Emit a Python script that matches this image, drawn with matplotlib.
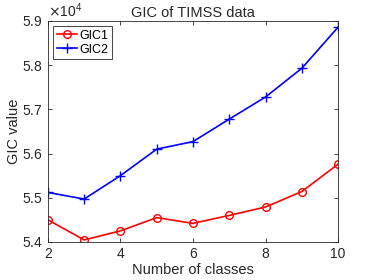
import matplotlib.pyplot as plt
import numpy as np

plt.rcParams.update({
    'font.family': ['Liberation Sans', 'DejaVu Sans'],
    'font.size': 10,
    'axes.linewidth': 0.6,
    'axes.edgecolor': '#262626',
    'xtick.color': '#262626',
    'ytick.color': '#262626',
    'xtick.direction': 'in',
    'ytick.direction': 'in',
    'xtick.top': True,
    'ytick.right': True,
    'xtick.major.size': 3,
    'ytick.major.size': 3,
    'xtick.major.width': 0.6,
    'ytick.major.width': 0.6,
})

# Data
n_classes = [2, 3, 4, 5, 6, 7, 8, 9, 10]
gic1 = [54500, 54045, 54250, 54550, 54420, 54600, 54790, 55140, 55760]
gic2 = [55120, 54970, 55500, 56100, 56270, 56780, 57280, 57930, 58860]

fig = plt.figure(figsize=(3.74, 2.8), dpi=100)
ax = fig.add_axes([0.128, 0.136, 0.776, 0.789])

ax.plot(n_classes, gic1, color='red', marker='o', markersize=5.5,
        markerfacecolor='none', markeredgewidth=1.0, linewidth=1.2, label='GIC1')
ax.plot(n_classes, gic2, color='blue', marker='+', markersize=6.5,
        markeredgewidth=1.0, linewidth=1.2, label='GIC2')

ax.set_xlim(2, 10)
ax.set_ylim(54000, 59000)
ax.set_xticks([2, 4, 6, 8, 10])
ax.set_yticks(np.arange(54000, 59001, 1000))
ax.ticklabel_format(style='sci', axis='y', scilimits=(4, 4), useMathText=True)
ax.yaxis.get_offset_text().set_color('#262626')
ax.tick_params(axis='x', pad=4)

ax.set_xlabel('Number of classes', color='#262626', fontsize=10.5, labelpad=1)
ax.set_ylabel('GIC value', color='#262626', fontsize=10.5, labelpad=1)
ax.set_title('GIC of TIMSS data', color='#262626', fontsize=10.5, pad=3)

leg = ax.legend(loc='upper left', fancybox=False, framealpha=1.0, fontsize=9,
                edgecolor='#262626', handlelength=1.6, borderpad=0.3,
                labelspacing=0.15, handletextpad=0.2, borderaxespad=0.4)
leg.get_frame().set_linewidth(0.6)

plt.savefig('out.png', dpi=100)
